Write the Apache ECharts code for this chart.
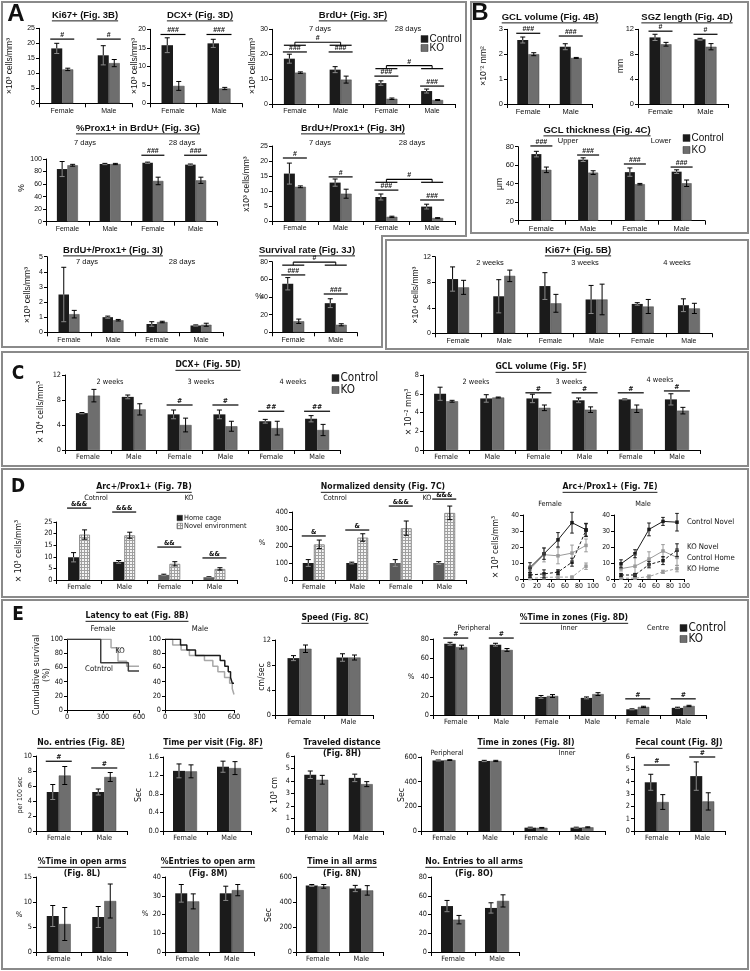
<!DOCTYPE html>
<html><head><meta charset="utf-8">
<script src="https://cdn.jsdelivr.net/npm/echarts@6/dist/echarts.min.js"></script>
<style>html,body{margin:0;padding:0;background:#fff;}#c{width:750px;height:971px;}</style>
</head><body><div id="c"></div>
<script>
// ================= DATA =================
const cats2=['Female','Male'];
const cats4=['Female','Male','Female','Male'];
const cats6=['Female','Male','Female','Male','Female','Male'];
// Panel A
const ki67_3B_ctrl=[18.3,16.0], ki67_3B_ctrl_err=[1.7,3.2], ki67_3B_ko=[11.3,13.4], ki67_3B_ko_err=[0.4,1.2];
const dcx_3D_ctrl=[15.7,16.2], dcx_3D_ctrl_err=[2.0,1.1], dcx_3D_ko=[4.7,4.0], dcx_3D_ko_err=[1.2,0.3];
const brdu_3F_ctrl=[18.2,13.8,8.4,5.2], brdu_3F_ctrl_err=[1.8,1.2,0.9,0.8], brdu_3F_ko=[12.6,9.8,2.1,1.6], brdu_3F_ko_err=[0.3,1.4,0.3,0.2];
const prox_3G_ctrl=[84,92,94,91], prox_3G_ctrl_err=[12,1,1,1], prox_3G_ko=[90,92,65,66], prox_3G_ko_err=[1.5,1,6,5];
const bp_3H_ctrl=[15.8,12.8,8.0,4.8], bp_3H_ctrl_err=[3.5,1.2,1.0,0.8], bp_3H_ko=[11.4,9.1,1.4,1.0], bp_3H_ko_err=[0.3,1.5,0.2,0.1];
const bp_3I_ctrl=[2.5,1.0,0.55,0.45], bp_3I_ctrl_err=[1.8,0.07,0.15,0.04], bp_3I_ko=[1.2,0.8,0.68,0.5], bp_3I_ko_err=[0.25,0.05,0.05,0.1];
const surv_3J_ctrl=[55,33], surv_3J_ctrl_err=[7,5], surv_3J_ko=[12.5,8.5], surv_3J_ko_err=[2.5,1.2];
// Panel B
const gclv_4B_ctrl=[2.57,2.3], gclv_4B_ctrl_err=[0.12,0.12], gclv_4B_ko=[2.0,1.85], gclv_4B_ko_err=[0.06,0.02];
const sgz_4D_ctrl=[10.7,10.4], sgz_4D_ctrl_err=[0.5,0.15], sgz_4D_ko=[9.6,9.2], sgz_4D_ko_err=[0.3,0.5];
const gclt_4C_ctrl=[72,66,52.5,53], gclt_4C_ctrl_err=[3,2,4.5,2], gclt_4C_ko=[55,52,39.5,40.5], gclt_4C_ko_err=[3,2,0.8,3.5];
// Fig 5B
const ki67_5B_ctrl=[8.5,5.8,7.4,5.3,4.6,4.4], ki67_5B_ctrl_err=[1.9,2.6,2.1,2.2,0.2,1.0], ki67_5B_ko=[7.2,9.0,4.7,5.3,4.2,3.9], ki67_5B_ko_err=[1.1,0.9,1.4,2.4,1.1,0.8];
// Panel C
const dcx_5D_ctrl=[5.9,8.5,5.7,5.7,4.6,5.0], dcx_5D_ctrl_err=[0.1,0.3,0.7,0.7,0.3,0.5], dcx_5D_ko=[8.7,6.5,4.0,3.8,3.5,3.2], dcx_5D_ko_err=[1.0,0.9,1.1,0.8,1.1,0.9];
const gclv_5F_ctrl=[6.0,5.5,5.5,5.3,5.4,5.4], gclv_5F_ctrl_err=[0.7,0.4,0.45,0.25,0.05,0.6], gclv_5F_ko=[5.2,5.6,4.5,4.3,4.4,4.2], gclv_5F_ko_err=[0.1,0.05,0.3,0.3,0.4,0.35];
// Panel D
const arc_7B_home=[9.8,7.8,2.2,1.2], arc_7B_home_err=[2.0,0.6,0.3,0.2], arc_7B_novel=[19.6,19.3,7.0,4.8], arc_7B_novel_err=[2.0,1.3,0.9,0.5];
const norm_7C_home=[100,100,100,100], norm_7C_home_err=[20,5,20,8], norm_7C_novel=[210,250,305,395], norm_7C_novel_err=[25,22,42,40];
const arc7E_x=[10,30,50,70,90];
const arc7E_F_ctrlNovel=[7.2,15.8,24.5,35.2,30.8], arc7E_F_ctrlNovel_err=[3,3.5,4.5,6.5,4];
const arc7E_F_koNovel=[2.5,3.2,4.3,10.5,30.5], arc7E_F_koNovel_err=[1.5,2.5,1.5,2.5,4];
const arc7E_F_ctrlHome=[6,15.2,14.5,16.2,21], arc7E_F_ctrlHome_err=[2,4.5,5,5,4];
const arc7E_F_koHome=[0.3,1.0,1.2,1.2,8], arc7E_F_koHome_err=[0.5,1.5,1,0.5,2];
const arc7E_M_ctrlNovel=[9.5,15.8,31,36,35.5], arc7E_M_ctrlNovel_err=[2.5,2.5,4,2.5,5.5];
const arc7E_M_koNovel=[2.5,2.5,9,11.5,18], arc7E_M_koNovel_err=[1,1,2,2.5,4];
const arc7E_M_ctrlHome=[6.5,8,12.5,17.5,13.5], arc7E_M_ctrlHome_err=[1.5,7,4.5,4,5];
const arc7E_M_koHome=[0.5,0.5,1.5,4.5,6.5], arc7E_M_koHome_err=[0.5,0.5,1,1,2];
// Panel E
const km8B_F_ctrl_t=[0,281,511,600], km8B_F_ctrl_s=[100,67,55,55];
const km8B_F_ko_t=[0,367,425,497,600], km8B_F_ko_s=[100,88,69,62,62];
const km8B_M_ctrl_t=[0,135,190,265,480,520,550,570,585,600], km8B_M_ctrl_s=[100,92,85,77,70,62,54,46,38,38];
const km8B_M_ko_t=[0,67,140,212,343,416,460,518,562,585,600], km8B_M_ko_s=[100,92,85,77,70,62,54,46,38,30,22];
const speed_8C_ctrl=[9.1,9.2], speed_8C_ctrl_err=[0.4,0.6], speed_8C_ko=[10.6,9.2], speed_8C_ko_err=[0.6,0.4];
const zones_8D_ctrl=[75,74,19,18,6,7.5], zones_8D_ctrl_err=[1.5,1.5,1.5,1,0.5,0.7], zones_8D_ko=[71.5,68.5,20,22,8.5,9.5], zones_8D_ko_err=[2,1.5,1.5,1.5,0.7,0.7];
const entries_8E_ctrl=[5.2,5.2], entries_8E_ctrl_err=[1.0,0.4], entries_8E_ko=[7.4,7.2], entries_8E_ko_err=[1.2,0.6];
const visit_8F_ctrl=[1.3,1.39], visit_8F_ctrl_err=[0.15,0.12], visit_8F_ko=[1.29,1.36], visit_8F_ko_err=[0.14,0.14];
const dist_8H_ctrl=[4.5,4.25], dist_8H_ctrl_err=[0.3,0.3], dist_8H_ko=[4.1,3.75], dist_8H_ko_err=[0.35,0.2];
const tzones_8I_ctrl=[572,568,27,27], tzones_8I_ctrl_err=[4,5,4,4], tzones_8I_ko=[575,568,26,30], tzones_8I_ko_err=[3,5,3,4];
const fecal_8J_ctrl=[3.95,4.45], fecal_8J_ctrl_err=[0.65,1.15], fecal_8J_ko=[2.35,2.4], fecal_8J_ko_err=[0.6,0.7];
const open_8L_ctrl=[7.2,7.0], open_8L_ctrl_err=[2.1,2.1], open_8L_ko=[5.6,10.2], open_8L_ko_err=[3.3,3.4];
const openE_8M_ctrl=[31.3,31.3], openE_8M_ctrl_err=[4.7,3.8], openE_8M_ko=[27,33], openE_8M_ko_err=[4,3];
const allT_8N_ctrl=[532,508], allT_8N_ctrl_err=[8,25], allT_8N_ko=[525,493], allT_8N_ko_err=[15,38];
const allE_8O_ctrl=[49,47], allE_8O_ctrl_err=[6,5.5], allE_8O_ko=[34.5,54.5], allE_8O_ko_err=[4.5,6.5];

// ================= STYLE / HELPERS =================
function hasFont(f){const c=document.createElement('canvas').getContext('2d');const s='Female Male 0123456789 Control';c.font='20px monospace';const w0=c.measureText(s).width;c.font="20px '"+f+"', monospace";return Math.abs(c.measureText(s).width-w0)>0.5;}
const FA="'Liberation Sans', Arial, sans-serif";
let FN, NS;
if(hasFont('Liberation Sans Narrow')){FN="'Liberation Sans Narrow', sans-serif";NS=1;}
else if(hasFont('DejaVu Sans Condensed')){FN="'DejaVu Sans Condensed', sans-serif";NS=0.86;}
else {FN="'Liberation Sans', sans-serif";NS=0.84;}
function fsz(ff,s){return ff===FN?+(s*NS).toFixed(2):s;}
const C_CTRL='#1b1b1b', C_KO='#6e6e6e', C_KOH='#5a5a5a';
const pc=document.createElement('canvas');pc.width=3;pc.height=3;const pg=pc.getContext('2d');
pg.fillStyle='#f4f4f4';pg.fillRect(0,0,3,3);pg.fillStyle='#a0a0a0';pg.fillRect(0,0,3,1);pg.fillRect(0,0,1,3);
const PAT={image:pc,repeat:'repeat'};

const grids=[],xAxes=[],yAxes=[],series=[],G=[],anns=[];
const mctx=document.createElement('canvas').getContext('2d');
function tw(t,font){mctx.font=font;return mctx.measureText(t).width;}
function T(x,y,text,o){o=o||{};const ff=o.ff||FA;const fs=fsz(ff,o.fs||9);const al=o.al||'center',va=o.va||'middle';
  G.push({type:'text',x:x,y:y,rotation:o.rot||0,z:50,silent:true,style:{text:text,fontSize:fs,fontFamily:ff,fontWeight:o.fw||'normal',fill:o.fill||'#111',align:al,verticalAlign:va,textAlign:al,textVerticalAlign:va}});}
function L(x1,y1,x2,y2,o){o=o||{};G.push({type:'line',z:50,silent:true,shape:{x1:x1,y1:y1,x2:x2,y2:y2},style:{stroke:o.c||'#000',lineWidth:o.w||1}});}
function R(x,y,w,h,o){o=o||{};G.push({type:'rect',z:o.z||50,silent:true,shape:{x:x,y:y,width:w,height:h},style:{fill:o.fill||'none',stroke:o.stroke||null,lineWidth:o.lw||1}});}
function title(x,y,text,ff,fs){T(x,y,text,{ff:ff,fs:fs,fw:'bold'});const s=fsz(ff,fs);const w=tw(text,'bold '+s+'px '+ff);L(x-w/2,y+s*0.62,x+w/2,y+s*0.62,{w:0.9});}
function VL(x,y,text,ff,fs){T(x,y,text,{ff:ff,fs:fs,rot:Math.PI/2});}
function box(points){G.push({type:'polygon',z:1,silent:true,shape:{points:points},style:{fill:'none',stroke:'#8a8a8a',lineWidth:2}});}
function legendSq(x,y,fill,text,ff,fs,sz){R(x,y-sz/2,sz,sz,{fill:fill,stroke:'#333',lw:0.5});T(x+sz+1.5,y,text,{ff:ff,fs:fs,al:'left'});}

function errS(gi,xs,vals,errs,off,up,lo,cap){
  return {type:'custom',xAxisIndex:gi,yAxisIndex:gi,silent:true,z:6,clip:false,
    data:vals.map((v,i)=>[xs[i],v,errs[i]]),
    renderItem:function(p,api){
      const xv=api.value(0),v=api.value(1),e=api.value(2);
      const c=api.coord([xv,v]),t=api.coord([xv,v+e]),b=api.coord([xv,Math.max(0,v-e)]);
      const x=c[0]+off;
      return {type:'group',children:[
        {type:'line',shape:{x1:x,y1:t[1],x2:x,y2:c[1]},style:{stroke:up,lineWidth:1}},
        {type:'line',shape:{x1:x,y1:c[1],x2:x,y2:b[1]},style:{stroke:lo,lineWidth:1}},
        {type:'line',shape:{x1:x-cap,y1:t[1],x2:x+cap,y2:t[1]},style:{stroke:up,lineWidth:1}},
        {type:'line',shape:{x1:x-cap,y1:b[1],x2:x+cap,y2:b[1]},style:{stroke:lo,lineWidth:1}}]};
    }};
}
function axX(gi,ff,tfs,extra){return Object.assign({gridIndex:gi,axisLine:{show:true,onZero:false,lineStyle:{color:'#000',width:1}},axisTick:{show:true,length:3,lineStyle:{color:'#000'}},axisLabel:{fontFamily:ff,fontSize:fsz(ff,tfs),color:'#111',margin:4,interval:0},splitLine:{show:false}},extra);}
function axY(gi,ff,tfs,extra,fmt){const a={gridIndex:gi,type:'value',axisLine:{show:true,onZero:false,lineStyle:{color:'#000',width:1}},axisTick:{show:true,length:3,lineStyle:{color:'#000'}},axisLabel:{fontFamily:ff,fontSize:fsz(ff,tfs),color:'#111',margin:4},splitLine:{show:false}};if(fmt)a.axisLabel.formatter=fmt;return Object.assign(a,extra);}

function barChart(c){
  const ff=c.ff||FA, tfs=c.tfs||7, bw=c.bw||11;
  const gi=grids.length;
  grids.push({left:c.x0,top:c.yTop,width:c.x1-c.x0,height:c.yBot-c.yTop});
  xAxes.push(axX(gi,ff,tfs,{type:'category',data:c.cats,axisTick:{show:true,length:4,lineStyle:{color:'#000'}}}));
  yAxes.push(axY(gi,ff,tfs,{min:0,max:c.max,interval:c.int},c.fmt));
  series.push({type:'bar',xAxisIndex:gi,yAxisIndex:gi,barWidth:bw,barGap:'0%',silent:true,z:2,
    data:c.a.map((v,i)=>({value:v,itemStyle:{color:(c.aCol&&c.aCol[i])||C_CTRL}}))});
  series.push({type:'bar',xAxisIndex:gi,yAxisIndex:gi,barWidth:bw,barGap:'0%',silent:true,z:2,
    data:c.b.map((v,i)=>({value:v,itemStyle:{color:c.bColor||C_KO,borderColor:c.bBorder||'#4a4a4a',borderWidth:c.bBorder?1:0.5}}))});
  const idx=c.a.map((_,i)=>i);
  series.push(errS(gi,idx,c.a,c.ae,-bw/2,'#000','#8a8a8a',2.5));
  series.push(errS(gi,idx,c.b,c.be,bw/2,'#000','#000',2.5));
  (c.sig||[]).forEach(s=>anns.push({gi:gi,k:'sig',cat:s[0],v:s[1],t:s[2],bw:bw,ff:ff}));
  (c.br||[]).forEach(s=>anns.push({gi:gi,k:'br',a:s[0],b:s[1],v:s[2],t:s[3],bw:bw,ff:ff}));
  return gi;
}
function lineChart(c){
  const ff=c.ff||FN, tfs=c.tfs||8;
  const gi=grids.length;
  grids.push({left:c.x0,top:c.yTop,width:c.x1-c.x0,height:c.yBot-c.yTop});
  xAxes.push(axX(gi,ff,tfs,{type:'value',min:c.xmin,max:c.xmax,interval:c.xint}));
  yAxes.push(axY(gi,ff,tfs,{min:0,max:c.ymax,interval:c.yint}));
  c.lines.forEach(l=>{
    series.push({type:'line',xAxisIndex:gi,yAxisIndex:gi,silent:true,z:3,data:l.x.map((x,i)=>[x,l.y[i]]),
      step:l.step||false,symbol:l.sym||'none',symbolSize:l.ss||4,showSymbol:!!l.sym,
      lineStyle:{color:l.c,width:l.w||1,type:l.dash?[3,2]:'solid'},itemStyle:{color:l.c}});
    if(l.e) series.push(errS(gi,l.x,l.y,l.e,0,l.c,l.c,1.8));
  });
  return gi;
}

// ================= LAYOUT =================
box([[2,2],[466,2],[466,236],[382,236],[382,347],[2,347]]);
box([[471,2],[748,2],[748,233],[471,233]]);
box([[386,240],[748,240],[748,349],[386,349]]);
box([[2,352],[748,352],[748,466],[2,466]]);
box([[2,469],[748,469],[748,597],[2,597]]);
box([[2,600],[748,600],[748,969],[2,969]]);

// ---- Panel A ----
T(16,14,'A',{fs:24,fw:'bold'});
title(85,15,'Ki67+ (Fig. 3B)',FA,9.5);
barChart({x0:39,x1:132,yTop:28.3,yBot:103.3,max:25,int:5,cats:cats2,a:ki67_3B_ctrl,ae:ki67_3B_ctrl_err,b:ki67_3B_ko,be:ki67_3B_ko_err,bw:11,sig:[[0,21.4,'#'],[1,21.4,'#']]});
VL(10,66,'×10³ cells/mm³',FA,8.5);
title(200,15,'DCX+ (Fig. 3D)',FA,9.5);
barChart({x0:150,x1:242,yTop:29.3,yBot:103.3,max:20,int:5,cats:cats2,a:dcx_3D_ctrl,ae:dcx_3D_ctrl_err,b:dcx_3D_ko,be:dcx_3D_ko_err,bw:11.5,sig:[[0,18.6,'###'],[1,18.6,'###']]});
VL(135,66,'×10³ cells/mm³',FA,8.5);
title(353,15,'BrdU+ (Fig. 3F)',FA,9.5);
barChart({x0:272,x1:455,yTop:29.3,yBot:104,max:30,int:10,cats:cats4,a:brdu_3F_ctrl,ae:brdu_3F_ctrl_err,b:brdu_3F_ko,be:brdu_3F_ko_err,bw:11,
  sig:[[0,20.9,'###'],[1,20.9,'###'],[2,11.2,'###'],[3,7.2,'###']],br:[[0,1,24.8,'#'],[2,3,15.4,'#']]});
VL(253,66,'×10³ cells/mm³',FA,8.5);
T(320,29,'7 days',{fs:7.5});T(408,29,'28 days',{fs:7.5});
legendSq(421,39,C_CTRL,'Control',FA,10,7);legendSq(421,48,C_KO,'KO',FA,10,7);

title(138,128,'%Prox1+ in BrdU+ (Fig. 3G)',FA,9.5);
barChart({x0:46,x1:217,yTop:159,yBot:221.7,max:100,int:20,cats:cats4,a:prox_3G_ctrl,ae:prox_3G_ctrl_err,b:prox_3G_ko,be:prox_3G_ko_err,bw:10.5,sig:[[2,106,'###'],[3,106,'###']]});
VL(22,188,'%',FA,8.5);
T(85,143,'7 days',{fs:7.5});T(182,143,'28 days',{fs:7.5});
title(353,128,'BrdU+/Prox1+ (Fig. 3H)',FA,9.5);
barChart({x0:272,x1:455,yTop:146,yBot:221,max:25,int:5,cats:cats4,a:bp_3H_ctrl,ae:bp_3H_ctrl_err,b:bp_3H_ko,be:bp_3H_ko_err,bw:11,
  sig:[[0,21,'#'],[1,14.7,'#'],[2,10.3,'###'],[3,7,'###']],br:[[2,3,13.9,'#']]});
VL(247,184,'x10³ cells/mm³',FA,8.5);
T(320,143,'7 days',{fs:7.5});T(412,143,'28 days',{fs:7.5});

title(113,250,'BrdU+/Prox1+ (Fig. 3I)',FA,9.5);
barChart({x0:47,x1:223,yTop:256.7,yBot:332.3,max:5,int:1,cats:cats4,a:bp_3I_ctrl,ae:bp_3I_ctrl_err,b:bp_3I_ko,be:bp_3I_ko_err,bw:10.5});
VL(28,295,'×10³ cells/mm³',FA,8.5);
T(87,262,'7 days',{fs:7.5});T(182,262,'28 days',{fs:7.5});
title(307,250,'Survival rate (Fig. 3J)',FA,9.5);
barChart({x0:272,x1:357,yTop:261.7,yBot:332.3,max:80,int:20,cats:cats2,a:surv_3J_ctrl,ae:surv_3J_ctrl_err,b:surv_3J_ko,be:surv_3J_ko_err,bw:11,
  sig:[[0,65,'###'],[1,43.4,'###']],br:[[0,1,79.5,'#']]});
T(259,297,'%',{fs:8.5});

// ---- Panel B ----
T(480,13,'B',{fs:24,fw:'bold'});
title(550,17,'GCL volume (Fig. 4B)',FA,9.5);
barChart({x0:507,x1:592,yTop:29.3,yBot:104,max:3,int:1,cats:cats2,a:gclv_4B_ctrl,ae:gclv_4B_ctrl_err,b:gclv_4B_ko,be:gclv_4B_ko_err,bw:11,tfs:7.5,sig:[[0,2.84,'###'],[1,2.73,'###']]});
VL(484,66,'×10⁻² mm²',FA,8.5);
title(687,17,'SGZ length (Fig. 4D)',FA,9.5);
barChart({x0:638,x1:728,yTop:29.3,yBot:104,max:12,int:4,cats:cats2,a:sgz_4D_ctrl,ae:sgz_4D_ctrl_err,b:sgz_4D_ko,be:sgz_4D_ko_err,bw:11,tfs:7.5,sig:[[0,11.7,'#'],[1,11.2,'#']]});
VL(621,66,'mm',FA,8.5);
title(597,130,'GCL thickness (Fig. 4C)',FA,9.5);
barChart({x0:518,x1:705,yTop:146.7,yBot:220.7,max:80,int:20,cats:cats4,a:gclt_4C_ctrl,ae:gclt_4C_ctrl_err,b:gclt_4C_ko,be:gclt_4C_ko_err,bw:10,tfs:7.5,
  sig:[[0,80.8,'###'],[1,71,'###'],[2,61.3,'###'],[3,58,'###']]});
VL(500,184,'μm',FA,8.5);
T(568,141,'Upper',{fs:7.5});T(661,141,'Lower',{fs:7.5});
legendSq(683,138,C_CTRL,'Control',FA,10,7);legendSq(683,150,C_KO,'KO',FA,10,7);

// ---- Fig 5B ----
title(578,250,'Ki67+ (Fig. 5B)',FA,9.5);
barChart({x0:435,x1:712,yTop:256.7,yBot:333.3,max:12,int:4,cats:cats6,a:ki67_5B_ctrl,ae:ki67_5B_ctrl_err,b:ki67_5B_ko,be:ki67_5B_ko_err,bw:11});
VL(416,295,'×10⁴ cells/mm³',FA,8.5);
T(490,263,'2 weeks',{fs:7.5});T(585,263,'3 weeks',{fs:7.5});T(677,263,'4 weeks',{fs:7.5});

// ---- Panel C ----
T(18,374,'C',{fs:22,fw:'bold',ff:FN});
title(208,365,'DCX+ (Fig. 5D)',FN,10);
barChart({x0:65,x1:340,yTop:375,yBot:450,max:12,int:4,cats:cats6,a:dcx_5D_ctrl,ae:dcx_5D_ctrl_err,b:dcx_5D_ko,be:dcx_5D_ko_err,bw:12,ff:FN,tfs:8.5,
  sig:[[2,7.2,'#'],[3,7.2,'#'],[4,6.2,'##'],[5,6.2,'##']]});
VL(41,412,'× 10⁴ cells/mm³',FN,10);
T(110,382,'2 weeks',{ff:FN,fs:8.5});T(201,382,'3 weeks',{ff:FN,fs:8.5});T(293,382,'4 weeks',{ff:FN,fs:8.5});
legendSq(332,378,C_CTRL,'Control',FN,13.5,7);legendSq(332,390,C_KO,'KO',FN,13.5,7);
title(541,367,'GCL volume (Fig. 5F)',FN,10);
barChart({x0:423,x1:700,yTop:375,yBot:450,max:8,int:2,cats:cats6,a:gclv_5F_ctrl,ae:gclv_5F_ctrl_err,b:gclv_5F_ko,be:gclv_5F_ko_err,bw:12,ff:FN,tfs:8.5,
  sig:[[2,6.1,'#'],[3,6.1,'#'],[4,6.1,'#'],[5,6.3,'#']]});
VL(409,412,'× 10⁻² mm³',FN,10);
T(476,382,'2 weeks',{ff:FN,fs:8.5});T(569,382,'3 weeks',{ff:FN,fs:8.5});T(660,380,'4 weeks',{ff:FN,fs:8.5});

// ---- Panel D ----
T(18,487,'D',{fs:22,fw:'bold',ff:FN});
title(144,487,'Arc+/Prox1+ (Fig. 7B)',FN,10);
barChart({x0:56.5,x1:237,yTop:522,yBot:580,max:25,int:5,cats:cats4,a:arc_7B_home,ae:arc_7B_home_err,b:arc_7B_novel,be:arc_7B_novel_err,bw:11,ff:FN,tfs:8.5,
  aCol:[C_CTRL,C_CTRL,C_KOH,C_KOH],bColor:PAT,bBorder:'#8c8c8c',
  sig:[[0,31,'&&&'],[1,29.3,'&&&'],[2,14.2,'&&'],[3,9.5,'&&']]});
VL(19,551,'× 10³ cells/mm³',FN,10);
T(96,498,'Cotnrol',{ff:FN,fs:8.5});T(189,498,'KO',{ff:FN,fs:8.5});
legendSq(177,518,C_CTRL,'Home cage',FN,8.5,5.5);legendSq(177,526,PAT,'Novel environment',FN,8.5,5.5);
title(383,487,'Normalized density (Fig. 7C)',FN,10);
barChart({x0:292,x1:466,yTop:512,yBot:580,max:400,int:100,cats:cats4,a:norm_7C_home,ae:norm_7C_home_err,b:norm_7C_novel,be:norm_7C_novel_err,bw:11,ff:FN,tfs:8.5,
  aCol:[C_CTRL,C_CTRL,C_KOH,C_KOH],bColor:PAT,bBorder:'#8c8c8c',
  sig:[[0,259,'&'],[1,294,'&'],[2,435,'&&&'],[3,476,'&&&']]});
T(262,543,'%',{ff:FN,fs:9});
T(335,498,'Cotnrol',{ff:FN,fs:8.5});T(427,498,'KO',{ff:FN,fs:8.5});
title(610,487,'Arc+/Prox1+ (Fig. 7E)',FN,10);
T(550,504,'Female',{ff:FN,fs:8.5});T(643,504,'Male',{ff:FN,fs:8.5});
VL(496,547,'× 10³ cells/mm³',FN,10);
lineChart({x0:523,x1:593,yTop:515,yBot:579,xmin:0,xmax:100,xint:20,ymax:40,yint:10,ff:FN,tfs:8,lines:[
  {x:arc7E_x,y:arc7E_F_koHome,e:arc7E_F_koHome_err,c:'#9a9a9a',dash:true,sym:'rect',ss:3.5},
  {x:arc7E_x,y:arc7E_F_ctrlHome,e:arc7E_F_ctrlHome_err,c:'#9a9a9a',sym:'rect',ss:3.5},
  {x:arc7E_x,y:arc7E_F_koNovel,e:arc7E_F_koNovel_err,c:'#1b1b1b',dash:true,sym:'rect',ss:3.5},
  {x:arc7E_x,y:arc7E_F_ctrlNovel,e:arc7E_F_ctrlNovel_err,c:'#1b1b1b',sym:'rect',ss:3.5}]});
lineChart({x0:614,x1:684,yTop:515,yBot:579,xmin:0,xmax:100,xint:20,ymax:40,yint:10,ff:FN,tfs:8,lines:[
  {x:arc7E_x,y:arc7E_M_koHome,e:arc7E_M_koHome_err,c:'#9a9a9a',dash:true,sym:'rect',ss:3.5},
  {x:arc7E_x,y:arc7E_M_ctrlHome,e:arc7E_M_ctrlHome_err,c:'#9a9a9a',sym:'rect',ss:3.5},
  {x:arc7E_x,y:arc7E_M_koNovel,e:arc7E_M_koNovel_err,c:'#1b1b1b',dash:true,sym:'rect',ss:3.5},
  {x:arc7E_x,y:arc7E_M_ctrlNovel,e:arc7E_M_ctrlNovel_err,c:'#1b1b1b',sym:'rect',ss:3.5}]});
T(687,522,'Control Novel',{ff:FN,fs:9,al:'left'});T(687,547,'KO Novel',{ff:FN,fs:9,al:'left'});
T(687,558,'Control Home',{ff:FN,fs:9,al:'left'});T(687,569,'KO Home',{ff:FN,fs:9,al:'left'});

// ---- Panel E ----
T(18,615,'E',{fs:22,fw:'bold',ff:FN});
title(137,616,'Latency to eat (Fig. 8B)',FN,10);
T(103,629,'Female',{ff:FN,fs:9});T(200,629,'Male',{ff:FN,fs:9});
VL(37,675,'Cumulative survival',FN,10.5);VL(47,675,'(%)',FN,10.5);
lineChart({x0:67,x1:139,yTop:639.3,yBot:710,xmin:0,xmax:600,xint:300,ymax:100,yint:20,ff:FN,tfs:8.5,lines:[
  {x:km8B_F_ko_t,y:km8B_F_ko_s,c:'#a8a8a8',w:1.5,step:'end'},
  {x:km8B_F_ctrl_t,y:km8B_F_ctrl_s,c:'#3c3c3c',w:1.5,step:'end'}]});
lineChart({x0:165,x1:234,yTop:639.3,yBot:710,xmin:0,xmax:600,xint:300,ymax:100,yint:20,ff:FN,tfs:8.5,lines:[
  {x:km8B_M_ko_t,y:km8B_M_ko_s,c:'#a8a8a8',w:1.5,step:'end'},
  {x:km8B_M_ctrl_t,y:km8B_M_ctrl_s,c:'#1b1b1b',w:1.5,step:'end'}]});
T(120,651,'KO',{ff:FN,fs:9});T(99,669,'Cotntrol',{ff:FN,fs:9});
title(335,618,'Speed (Fig. 8C)',FN,10);
barChart({x0:275,x1:373,yTop:640,yBot:715,max:12,int:4,cats:cats2,a:speed_8C_ctrl,ae:speed_8C_ctrl_err,b:speed_8C_ko,be:speed_8C_ko_err,bw:12,ff:FN,tfs:8.5});
VL(262,677,'cm/sec',FN,10);
title(574,618,'%Time in zones (Fig. 8D)',FN,10);
barChart({x0:433,x1:706,yTop:639,yBot:715,max:80,int:20,cats:cats6,a:zones_8D_ctrl,ae:zones_8D_ctrl_err,b:zones_8D_ko,be:zones_8D_ko_err,bw:11.5,ff:FN,tfs:8.5,
  sig:[[0,81,'#'],[1,81,'#'],[4,17,'#'],[5,17,'#']]});
T(411,677,'%',{ff:FN,fs:9});
T(474,628,'Peripheral',{ff:FN,fs:8.5});T(569,628,'Inner',{ff:FN,fs:8.5});T(658,628,'Centre',{ff:FN,fs:8.5});
legendSq(680,628,C_CTRL,'Control',FN,13.5,7);legendSq(680,639,C_KO,'KO',FN,13.5,7);

title(81,743,'No. entries (Fig. 8E)',FN,10);
barChart({x0:36,x1:127,yTop:756,yBot:831,max:10,int:2,cats:cats2,a:entries_8E_ctrl,ae:entries_8E_ctrl_err,b:entries_8E_ko,be:entries_8E_ko_err,bw:12,ff:FN,tfs:8.5,
  sig:[[0,9.3,'#'],[1,8.4,'#']]});
VL(20,795,'per 100 sec',FN,8);
title(213,743,'Time per visit (Fig. 8F)',FN,10);
barChart({x0:163,x1:251,yTop:757,yBot:831,max:1.6,int:0.4,cats:cats2,a:visit_8F_ctrl,ae:visit_8F_ctrl_err,b:visit_8F_ko,be:visit_8F_ko_err,bw:12,ff:FN,tfs:8.5,fmt:v=>v.toFixed(1)});
VL(139,795,'Sec',FN,10);
title(342,743,'Traveled distance',FN,10);T(342,754,'(Fig. 8H)',{ff:FN,fs:10,fw:'bold'});
barChart({x0:294,x1:383,yTop:756,yBot:831,max:6,int:1,cats:cats2,a:dist_8H_ctrl,ae:dist_8H_ctrl_err,b:dist_8H_ko,be:dist_8H_ko_err,bw:12,ff:FN,tfs:8.5});
VL(275,795,'× 10³ cm',FN,10);
title(526,743,'Time in zones (Fig. 8I)',FN,10);
barChart({x0:421,x1:605,yTop:757,yBot:831,max:600,int:200,cats:cats4,a:tzones_8I_ctrl,ae:tzones_8I_ctrl_err,b:tzones_8I_ko,be:tzones_8I_ko_err,bw:11.5,ff:FN,tfs:8.5});
T(447,753,'Peripheral',{ff:FN,fs:8.5});T(567,753,'Inner',{ff:FN,fs:8.5});
VL(402,795,'Sec',FN,10);
title(679,743,'Fecal count (Fig. 8J)',FN,10);
barChart({x0:634,x1:725,yTop:757,yBot:831,max:6,int:1,cats:cats2,a:fecal_8J_ctrl,ae:fecal_8J_ctrl_err,b:fecal_8J_ko,be:fecal_8J_ko_err,bw:12,ff:FN,tfs:8.5,
  sig:[[0,5.35,'#'],[1,6.0,'#']]});

title(82,862,'%Time in open arms',FN,10);T(82,874,'(Fig. 8L)',{ff:FN,fs:10,fw:'bold'});
barChart({x0:36,x1:127,yTop:877,yBot:952,max:15,int:5,cats:cats2,a:open_8L_ctrl,ae:open_8L_ctrl_err,b:open_8L_ko,be:open_8L_ko_err,bw:12,ff:FN,tfs:8.5});
T(19,915,'%',{ff:FN,fs:9});
title(208,862,'%Entries to open arm',FN,10);T(208,874,'(Fig. 8M)',{ff:FN,fs:10,fw:'bold'});
barChart({x0:165,x1:254,yTop:877,yBot:952,max:40,int:10,cats:cats2,a:openE_8M_ctrl,ae:openE_8M_ctrl_err,b:openE_8M_ko,be:openE_8M_ko_err,bw:12,ff:FN,tfs:8.5});
T(145,914,'%',{ff:FN,fs:9});
title(342,862,'Time in all arms',FN,10);T(342,874,'(Fig. 8N)',{ff:FN,fs:10,fw:'bold'});
barChart({x0:296,x1:383,yTop:877,yBot:952,max:600,int:200,cats:cats2,a:allT_8N_ctrl,ae:allT_8N_ctrl_err,b:allT_8N_ko,be:allT_8N_ko_err,bw:12,ff:FN,tfs:8.5});
VL(269,915,'Sec',FN,10);
title(474,862,'No. Entries to all arms',FN,10);T(474,874,'(Fig. 8O)',{ff:FN,fs:10,fw:'bold'});
barChart({x0:431,x1:519,yTop:877,yBot:952,max:80,int:20,cats:cats2,a:allE_8O_ctrl,ae:allE_8O_ctrl_err,b:allE_8O_ko,be:allE_8O_ko_err,bw:12,ff:FN,tfs:8.5});

// ================= RENDER =================
const chart=echarts.init(document.getElementById('c'),null,{renderer:'canvas',width:750,height:971});
chart.setOption({animation:false,grid:grids,xAxis:xAxes,yAxis:yAxes,series:series});
function cp(gi,x,v){return chart.convertToPixel({gridIndex:gi},[x,v]);}
anns.forEach(a=>{
  const sfs=a.ff===FN?8:7;
  if(a.k==='sig'){
    const p=cp(a.gi,a.cat,a.v);
    L(p[0]-a.bw-1,p[1],p[0]+a.bw+1,p[1],{w:1.2});
    T(p[0],p[1]-0.5,a.t,{ff:a.ff,fs:sfs,fw:'bold',va:'bottom'});
  } else {
    const pa=cp(a.gi,a.a,a.v),pb=cp(a.gi,a.b,a.v);
    L(pa[0],pa[1],pb[0],pb[1],{w:1.2});
    L(pa[0],pa[1],pa[0],pa[1]+3);L(pb[0],pb[1],pb[0],pb[1]+3);
    L(pa[0]-a.bw,pa[1]+3,pa[0]+a.bw,pa[1]+3,{w:1.2});L(pb[0]-a.bw,pb[1]+3,pb[0]+a.bw,pb[1]+3,{w:1.2});
    T((pa[0]+pb[0])/2,pa[1]-0.5,a.t,{ff:a.ff,fs:sfs,fw:'bold',va:'bottom'});
  }
});
chart.setOption({graphic:{elements:G}});
</script></body></html>
